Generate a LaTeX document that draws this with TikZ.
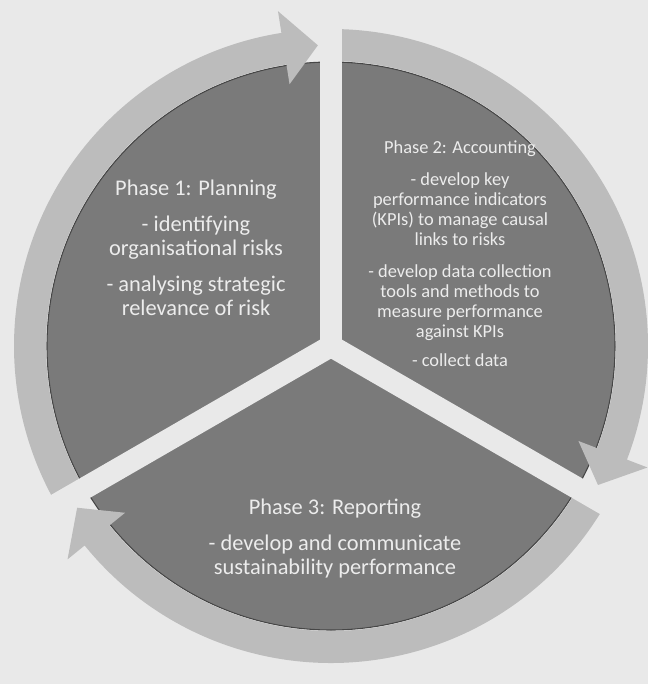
\documentclass[tikz,border=0pt]{standalone}
\usepackage{fontspec}
\setmainfont{Carlito}

\definecolor{bgGray}{RGB}{233,233,233}
\definecolor{sectGray}{RGB}{122,122,122}
\definecolor{ringGray}{RGB}{188,188,188}
\definecolor{lineGray}{RGB}{70,70,70}
\definecolor{txtWhite}{RGB}{236,236,236}

\tikzset{every picture/.style={line width=0.75pt}}
\tikzset{
  sector/.style={fill=sectGray, draw=lineGray, line width=0.8},
  ringarrow/.style={fill=ringGray, draw=none},
  gapline/.style={draw=bgGray, line width=16.5pt},
  bigtext/.style={text=txtWhite, align=center, inner sep=0.75pt, font=\fontsize{16.8}{18}\selectfont},
  smalltext/.style={text=txtWhite, align=center, inner sep=0.75pt, font=\fontsize{13.8}{15}\selectfont},
}

\begin{document}
\begin{tikzpicture}[x=0.75pt,y=0.75pt,yscale=-1,xscale=1]
%set diagram size to 648 x 684
\useasboundingbox (0,0) rectangle (648,684);
\path [fill=bgGray] (0,0) rectangle (648,684);

\begin{scope}[shift={(331,346)}]
%Shape: Circle, the three phases
\draw [sector] (0,0) circle (284);

%Shape: Arc arrow, phase 1 to phase 2
\fill [ringarrow] (150:285) arc [start angle=150, end angle=261, radius=285] -- (261:265) -- (267.5:301) -- (261:339) -- (261:317) arc [start angle=261, end angle=150, radius=317] -- cycle;
%Shape: Arc arrow, phase 2 to phase 3
\fill [ringarrow] (270:285) arc [start angle=270, end angle=381, radius=285] -- (381:265) -- (387.5:301) -- (381:339) -- (381:317) arc [start angle=381, end angle=270, radius=317] -- cycle;
%Shape: Arc arrow, phase 3 to phase 1
\fill [ringarrow] (30:285) arc [start angle=30, end angle=141, radius=285] -- (141:265) -- (147.5:301) -- (141:339) -- (141:317) arc [start angle=141, end angle=30, radius=317] -- cycle;

%Straight Lines, gaps between the phases
\draw [gapline] (0,0) -- (270:325);
\draw [gapline] (0,0) -- (30:325);
\draw [gapline] (0,0) -- (150:325);
\end{scope}

% Text Node
\node [bigtext] (plan) at (196,248) {Phase 1: Planning\\[9pt] - identifying\\ organisational risks\\[9pt] - analysing strategic\\ relevance of risk};
% Text Node
\node [smalltext] (acct) at (460,254) {Phase 2: Accounting\\[9pt] - develop key\\ performance indicators\\ (KPIs) to manage causal\\ links to risks\\[9pt] - develop data collection\\ tools and methods to\\ measure performance\\ against KPIs\\[7pt] - collect data};
% Text Node
\node [bigtext] (rep) at (335,539) {Phase 3: Reporting\\[9pt] - develop and communicate\\ sustainability performance};

\end{tikzpicture}
\end{document}
